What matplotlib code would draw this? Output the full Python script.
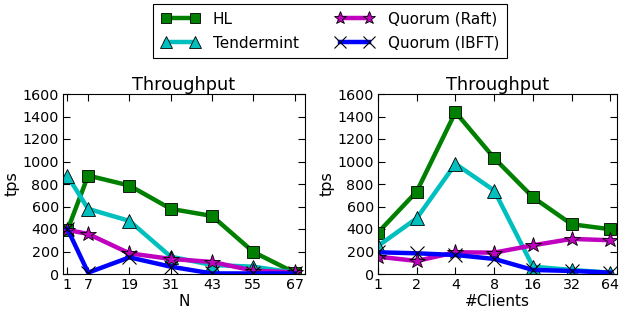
import matplotlib
matplotlib.use("Agg")
import matplotlib.pyplot as plt
import numpy as np

n_nodes = [1, 7, 19, 31, 43, 55, 67]
clients = [1, 2, 4, 8, 16, 32, 64]
yticks = [0, 200, 400, 600, 800, 1000, 1200, 1400, 1600]

left_hl = [390, 875, 786, 579, 516, 196, 12]
left_tm = [872, 579, 472, 154, 80, 65, 12]
left_raft = [392, 356, 184, 134, 107, 30, 15]
left_ibft = [400, 12, 148, 65, 5, 5, 5]

right_hl = [368, 733, 1439, 1030, 682, 442, 398]
right_tm = [249, 495, 979, 742, 65, 36, 12]
right_raft = [154, 116, 193, 190, 255, 312, 300]
right_ibft = [193, 184, 169, 134, 36, 27, 12]

labels = ["HL", "Tendermint", "Quorum (Raft)", "Quorum (IBFT)"]

plt.rcParams['font.family'] = ['DejaVu Sans']
plt.rcParams['font.size'] = 10

fig = plt.figure(figsize=(6.21, 3.14), dpi=100)
W, H = 621, 314
ax1 = fig.add_axes([63/W, 1-274/H, (305-63)/W, (274-94)/H])
ax2 = fig.add_axes([378/W, 1-274/H, (617-378)/W, (274-94)/H])

styles = [
    dict(color='green', marker='s', markersize=9, mec='black', mew=0.6),
    dict(color='c', marker='^', markersize=10, mec='black', mew=0.6),
    dict(color='m', marker='*', markersize=11.5, mec='black', mew=0.6),
    dict(color='blue', marker='x', markersize=9.5, mec='black', mew=0.8),
]

def draw(ax, x, series):
    handles = []
    for s, st, lab in zip(series, styles, labels):
        h, = ax.plot(x, s, lw=3.2, label=lab, **st)
        handles.append(h)
    return handles

handles = draw(ax1, n_nodes, [left_hl, left_tm, left_raft, left_ibft])
draw(ax2, clients, [right_hl, right_tm, right_raft, right_ibft])

ax1.set_xlim(-0.3, 70)
ax1.set_xticks(n_nodes)
ax1.set_xticklabels([str(v) for v in n_nodes])
ax1.set_xlabel("N", fontsize=11, labelpad=1)

ax2.set_xscale('log', base=2)
ax2.set_xlim(1, 72)
ax2.set_xticks(clients)
ax2.set_xticklabels([str(v) for v in clients])
ax2.minorticks_off()
ax2.set_xlabel("#Clients", fontsize=11, labelpad=1)

for ax in (ax1, ax2):
    ax.set_ylim(0, 1600)
    ax.set_yticks(yticks)
    ax.set_yticklabels([str(v) for v in yticks])
    ax.set_ylabel("tps", fontsize=11.5, labelpad=2)
    ax.set_title("Throughput", fontsize=12.7, pad=3)
    ax.tick_params(direction='in', top=True, right=True, length=5, labelsize=10.3, pad=3)
    for sp in ax.spines.values():
        sp.set_linewidth(0.8)

leg = fig.legend(handles=handles, labels=labels, ncol=2, loc='upper center',
                 bbox_to_anchor=(330/W, 1-4/H), borderaxespad=0, numpoints=2, fontsize=11,
                 fancybox=False, edgecolor='black', framealpha=1,
                 handlelength=2.5, columnspacing=2.4, borderpad=0.5,
                 labelspacing=0.6, markerscale=0.85, handletextpad=0.9)
leg.get_frame().set_linewidth(0.8)

fig.savefig("out.png", dpi=100, facecolor='white')
